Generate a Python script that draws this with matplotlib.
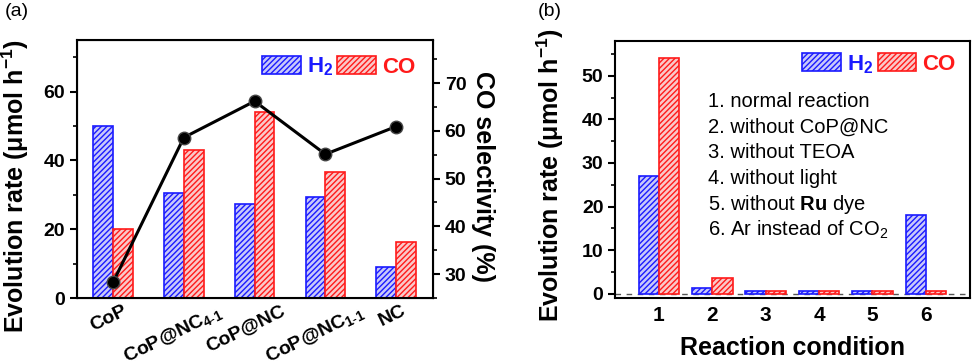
import numpy as np
import matplotlib
matplotlib.use("Agg")
import matplotlib.pyplot as plt
from matplotlib.patches import Patch
from matplotlib.ticker import MultipleLocator
from matplotlib.transforms import ScaledTranslation

plt.rcParams['font.family'] = ['Liberation Sans', 'DejaVu Sans']
plt.rcParams['mathtext.fontset'] = 'custom'
plt.rcParams['mathtext.rm'] = 'Liberation Sans'
plt.rcParams['mathtext.bf'] = 'Liberation Sans:bold'
plt.rcParams['mathtext.it'] = 'Liberation Sans:italic'
plt.rcParams['hatch.linewidth'] = 1.0

# panel (a) data
catalysts = ["CoP", r"CoP@NC$_\mathbf{4\text{-}1}$", "CoP@NC",
             r"CoP@NC$_\mathbf{1\text{-}1}$", "NC"]
h2_a = [50, 30.5, 27.3, 29.5, 9]
co_a = [20, 43, 54, 36.5, 16.3]
co_selectivity = [28.3, 58.6, 66.2, 55.1, 60.9]

# panel (b) data
conditions = ["1", "2", "3", "4", "5", "6"]
h2_b = [27, 1.3, 0.5, 0.5, 0.5, 18]
co_b = [54, 3.6, 0.5, 0.5, 0.5, 0.5]
condition_notes = ["1. normal reaction", "2. without CoP@NC", "3. without TEOA",
                   "4. without light", r"5. without $\mathbf{Ru}$ dye",
                   r"6. Ar instead of CO$_2$"]

BLUE = '#1a1aff'
RED = '#ff1a1a'
blue_style = dict(facecolor='#c8c8fa', edgecolor=BLUE, hatch='//////', linewidth=1.2)
red_style = dict(facecolor='#fac8c8', edgecolor=RED, hatch='//////', linewidth=1.2)

ylab = r"Evolution rate $\mathregular{(\mu mol\ h^{-1})}$"

fig = plt.figure(figsize=(9.75, 3.61), dpi=100)

# ---------- (a) ----------
ax1 = fig.add_axes([0.079, 0.1745, 0.365, 0.7145])
x = np.arange(len(catalysts))
w = 0.28
ax1.bar(x - w / 2, h2_a, w, **blue_style)
ax1.bar(x + w / 2, co_a, w, **red_style)
ax1.set_xlim(-0.51, 4.52)
ax1.set_ylim(0, 75)
ax1.yaxis.set_major_locator(MultipleLocator(20))
ax1.yaxis.set_minor_locator(MultipleLocator(10))
ax1.set_xticks(x)
ax1.set_xticklabels(catalysts, rotation=26, ha='center', fontsize=14, fontweight='bold')
ax1.tick_params(axis='x', length=0, pad=3)
ax1.tick_params(axis='y', which='major', length=5, width=1.5, labelsize=14)
ax1.tick_params(axis='y', which='minor', length=3, width=1.2)
for lbl in ax1.get_yticklabels():
    lbl.set_fontweight('bold')
ax1.set_ylabel(ylab, fontsize=18, fontweight='bold')
ax1.yaxis.set_label_coords(-0.13, 0.434)
for s in ax1.spines.values():
    s.set_linewidth(1.5)

ax2 = ax1.twinx()
ax2.plot(x, co_selectivity, color='black', lw=2.2, marker='o', markersize=9,
         markerfacecolor='black', markeredgecolor='#444444')
ax2.set_ylim(25, 79)
ax2.yaxis.set_major_locator(MultipleLocator(10))
ax2.yaxis.set_minor_locator(MultipleLocator(5))
ax2.tick_params(axis='y', which='major', length=5, width=1.5, labelsize=14)
ax2.tick_params(axis='y', which='minor', length=3, width=1.2)
for lbl in ax2.get_yticklabels():
    lbl.set_fontweight('bold')
ax2.set_ylabel("CO selectivity (%)", fontsize=18, fontweight='bold',
               rotation=270, va='center')
ax2.yaxis.set_label_coords(1.14, 0.473)

handles = [Patch(**blue_style), Patch(**red_style)]
leg = ax1.legend(handles, [r"H$_\mathbf{2}$", "CO"], ncol=2, loc='upper right',
                 bbox_to_anchor=(0.95, 0.94), frameon=False, handlelength=1.75,
                 handleheight=0.85, handletextpad=0.25, columnspacing=0.2,
                 borderaxespad=0, borderpad=0, prop=dict(size=16, weight='bold'))
for t, c in zip(leg.get_texts(), [BLUE, RED]):
    t.set_color(c)

fig.text(0.005, 0.955, "(a)", fontsize=14)

# ---------- (b) ----------
ax3 = fig.add_axes([0.631, 0.1745, 0.364, 0.712])
xb = np.arange(1, len(conditions) + 1)
wb = 0.38
ax3.bar(xb - wb / 2, h2_b, wb, **blue_style)
ax3.bar(xb + wb / 2, co_b, wb, **red_style)
ax3.axhline(0, color='#555555', lw=1, ls=(0, (4, 4)), zorder=0)
ax3.set_xlim(0.18, 6.83)
ax3.set_ylim(-1, 58)
ax3.set_xticks(xb)
ax3.set_xticklabels(conditions, fontsize=15, fontweight='bold')
ax3.yaxis.set_major_locator(MultipleLocator(10))
ax3.yaxis.set_minor_locator(MultipleLocator(5))
ax3.tick_params(axis='x', length=0, pad=6)
ax3.tick_params(axis='y', which='major', length=5, width=1.5, labelsize=14)
ax3.tick_params(axis='y', which='minor', length=3, width=1.2)
for lbl in ax3.get_yticklabels():
    lbl.set_fontweight('bold')
ax3.set_ylabel(ylab, fontsize=18, fontweight='bold')
ax3.yaxis.set_label_coords(-0.14, 0.48)
ax3.set_xlabel("Reaction condition", fontsize=18, fontweight='bold', labelpad=8)
for s in ax3.spines.values():
    s.set_linewidth(1.5)

leg2 = ax3.legend(handles, [r"H$_\mathbf{2}$", "CO"], ncol=2, loc='upper right',
                  bbox_to_anchor=(0.958, 0.953), frameon=False, handlelength=1.75,
                  handleheight=0.85, handletextpad=0.25, columnspacing=0.2,
                  borderaxespad=0, borderpad=0, prop=dict(size=16, weight='bold'))
for t, c in zip(leg2.get_texts(), [BLUE, RED]):
    t.set_color(c)

for i, note in enumerate(condition_notes):
    ax3.text(0.262, 0.765 - i * 0.1, note, transform=ax3.transAxes, fontsize=14.5,
             va='center')

fig.text(0.552, 0.955, "(b)", fontsize=14)

# nudge the rotated category labels left in proportion to their width
fig.canvas.draw()
for lbl in ax1.get_xticklabels():
    wpx = lbl.get_window_extent().width
    lbl.set_transform(lbl.get_transform() +
                      ScaledTranslation(-0.1 * wpx / fig.dpi, 0, fig.dpi_scale_trans))

fig.savefig("out.png", dpi=100)
